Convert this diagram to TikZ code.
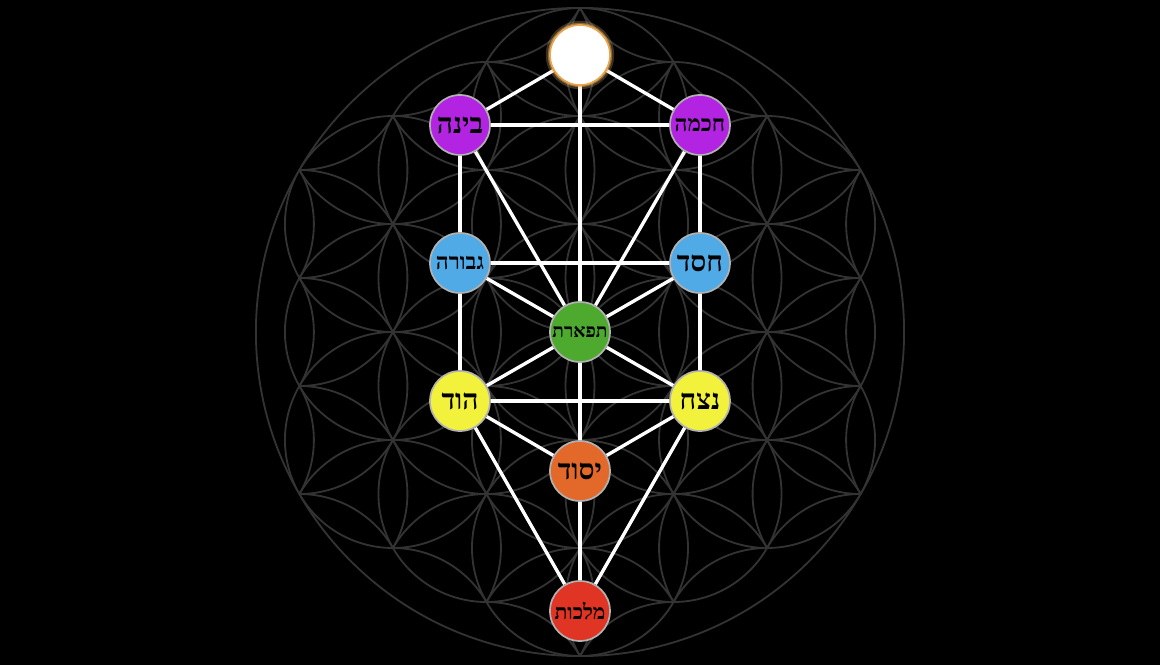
\documentclass[tikz,border=0pt]{standalone}
\usepackage{fontspec}
\newfontfamily\hebfont[Script=Hebrew]{Liberation Serif}
\TeXXeTstate=1
\usetikzlibrary{backgrounds}
\definecolor{binahpurple}{HTML}{B223E2}
\definecolor{gevurahblue}{HTML}{4FAAE6}
\definecolor{tiferetgreen}{HTML}{4DAA2E}
\definecolor{hodyellow}{HTML}{F2F23C}
\definecolor{yesodorange}{HTML}{E2692A}
\definecolor{malkhutred}{HTML}{E03424}
\definecolor{keterrim}{HTML}{E8A850}
\definecolor{petalgray}{HTML}{333333}

\begin{document}
\begin{tikzpicture}[
        x=0.025cm, y=0.025cm,
        sefira/.style={circle, draw=gray!60, line width=1.2pt, minimum size=1.5cm,
                       inner sep=0pt, text=black,
                       font=\hebfont\bfseries\fontsize{20}{24}\selectfont},
        midtext/.style={font=\hebfont\bfseries\fontsize{16}{19}\selectfont},
        smalltext/.style={font=\hebfont\bfseries\fontsize{15}{18}\selectfont},
        tinytext/.style={font=\hebfont\bfseries\fontsize{13.5}{16}\selectfont},
        crown/.style={sefira, fill=white, draw=keterrim,
                      preaction={draw=keterrim!70, line width=6pt, opacity=0.25},
                      preaction={draw=keterrim, line width=3pt, opacity=0.5}},
        link/.style={draw=white, line width=2.4pt},
        petal/.style={draw=petalgray, line width=1.3pt},
    ]
        % the ten sefirot
        \node[crown] (keter) at (0,277) {};
        \node[sefira, fill=binahpurple] (binah) at (-120,207) {\beginR בינה\endR};
        \node[sefira, fill=binahpurple, midtext] (chokhmah) at (120,207) {\beginR חכמה\endR};
        \node[sefira, fill=gevurahblue, midtext] (gevurah) at (-120,69) {\beginR גבורה\endR};
        \node[sefira, fill=gevurahblue] (chesed) at (120,69) {\beginR חסד\endR};
        \node[sefira, fill=tiferetgreen, tinytext] (tiferet) at (0,0) {\beginR תפארת\endR};
        \node[sefira, fill=hodyellow] (hod) at (-120,-69) {\beginR הוד\endR};
        \node[sefira, fill=hodyellow] (netzach) at (120,-69) {\beginR נצח\endR};
        \node[sefira, fill=yesodorange] (yesod) at (0,-139) {\beginR יסוד\endR};
        \node[sefira, fill=malkhutred, smalltext] (malkhut) at (0,-279) {\beginR מלכות\endR};

        \begin{pgfonlayer}{background}
            \fill[black] (-580,-333) rectangle (580,332);
            % flower of life: one petal for each pair of neighbouring points inside the rim
            \begin{scope}
                \clip (0,0) circle (8.1cm);
                \foreach \i in {-3,...,3}
                    \foreach \j in {-5,...,5}
                        \foreach \t in {90,30,-30} {
                            \pgfmathsetmacro\pu{\i*0.866025}
                            \pgfmathsetmacro\pv{\j+0.5*(\i)}
                            \pgfmathsetmacro\qu{\pu+cos(\t)}
                            \pgfmathsetmacro\qv{\pv+sin(\t)}
                            \pgfmathtruncatemacro\inside{((\pu*\pu+\pv*\pv<9.02) && (\qu*\qu+\qv*\qv<9.02)) ? 1 : 0}
                            \ifnum\inside=1
                                \draw[petal] (\pu*108,\pv*108)
                                    arc[start angle=\t-120, end angle=\t-60, radius=2.7cm]
                                    arc[start angle=\t+60, end angle=\t+120, radius=2.7cm];
                            \fi
                        }
            \end{scope}
            \draw[petal] (0,0) circle (8.1cm);

            % the paths
            \draw[link] (keter) -- (binah);
            \draw[link] (keter) -- (chokhmah);
            \draw[link] (keter) -- (tiferet);
            \draw[link] (binah) -- (chokhmah);
            \draw[link] (binah) -- (gevurah);
            \draw[link] (binah) -- (tiferet);
            \draw[link] (chokhmah) -- (chesed);
            \draw[link] (chokhmah) -- (tiferet);
            \draw[link] (gevurah) -- (chesed);
            \draw[link] (gevurah) -- (tiferet);
            \draw[link] (gevurah) -- (hod);
            \draw[link] (chesed) -- (tiferet);
            \draw[link] (chesed) -- (netzach);
            \draw[link] (tiferet) -- (hod);
            \draw[link] (tiferet) -- (netzach);
            \draw[link] (tiferet) -- (yesod);
            \draw[link] (hod) -- (netzach);
            \draw[link] (hod) -- (yesod);
            \draw[link] (netzach) -- (yesod);
            \draw[link] (hod) -- (malkhut);
            \draw[link] (netzach) -- (malkhut);
            \draw[link] (yesod) -- (malkhut);
        \end{pgfonlayer}
    \end{tikzpicture}
\end{document}
